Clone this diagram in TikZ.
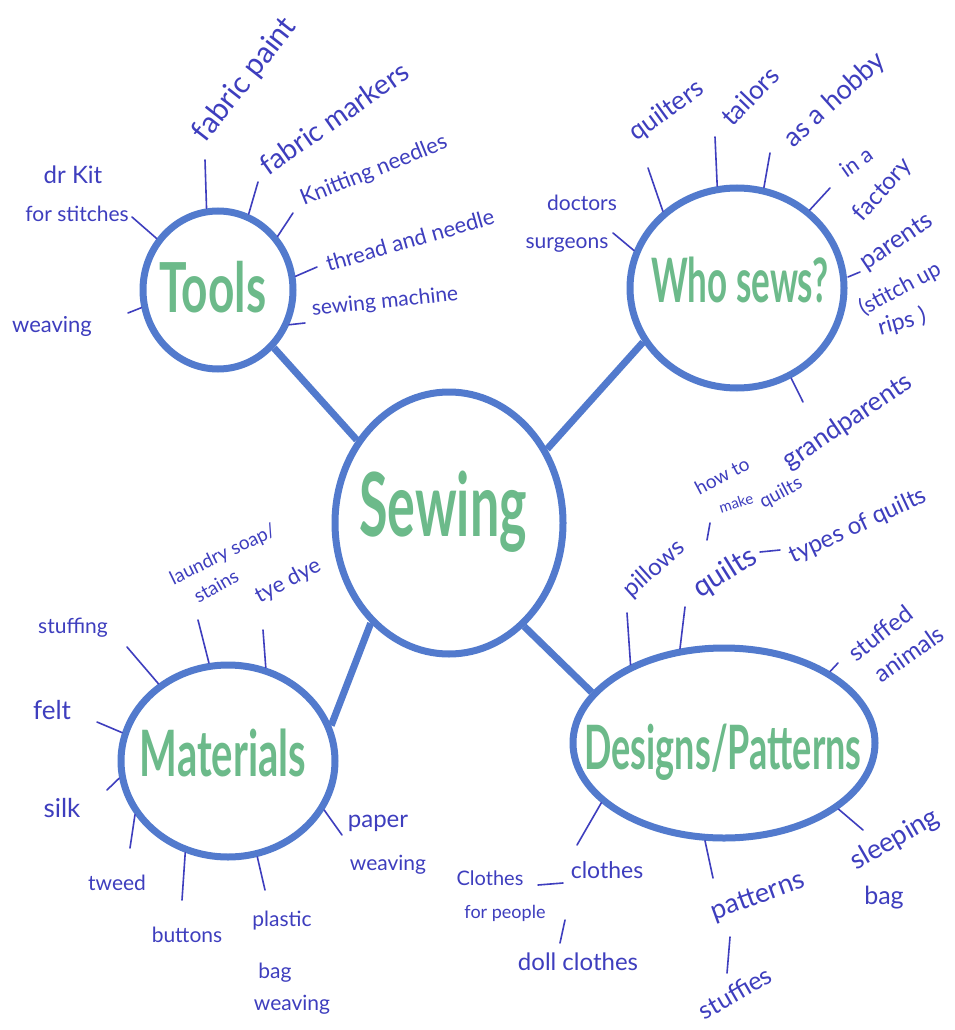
\documentclass[tikz,border=0pt]{standalone}
\usepackage{fontspec}
\setmainfont{Lato}
\usetikzlibrary{shapes.geometric}
\definecolor{ring}{RGB}{82,122,205}
\definecolor{ink}{RGB}{62,62,190}
\definecolor{leaf}{RGB}{108,186,138}
\newcommand{\fs}[1]{\fontsize{#1}{#1}\selectfont}
\begin{document}
\begin{tikzpicture}[x=1pt,y=-1pt,
  bubble/.style={ellipse, draw=ring, line width=7pt, inner sep=0pt},
  title/.style={text=leaf, inner sep=0pt, font=\bfseries},
  conn/.style={draw=ring, line width=7pt},
  tick/.style={draw=ink, line width=1.6pt, line cap=round},
  lab/.style={text=ink, inner sep=0pt, font=\fs{21}},
]
\useasboundingbox (0,0) rectangle (955,1030);
\fill[white] (0,0) rectangle (955,1030);

% ---------- bubbles ----------
\node[bubble, minimum width=150pt, minimum height=158pt] (tools) at (218,290) {};
\node[title, font=\bfseries\fs{46}, yscale=1.5] (toolsT) at (213,287) {Tools};
\node[bubble, minimum width=214pt, minimum height=200pt] (who) at (737,288) {};
\node[title, font=\bfseries\fs{35}, yscale=1.75] (whoT) at (740,280) {Who sews?};
\node[bubble, minimum width=228pt, minimum height=262pt] (sewing) at (449,523) {};
\node[title, font=\bfseries\fs{52}, yscale=1.7] (sewingT) at (443,512) {Sewing};
\node[bubble, minimum width=214pt, minimum height=192pt] (mat) at (228,761) {};
\node[title, font=\bfseries\fs{40}, yscale=1.6] (matT) at (223,753) {Materials};
\node[bubble, minimum width=302pt, minimum height=190pt] (des) at (724,743) {};
\node[title, font=\bfseries\fs{36}, yscale=1.7] (desT) at (723,752) {Designs/Patterns};

% ---------- main connectors ----------
\draw[conn] (tools.314) -- (sewing.138);
\draw[conn] (who.210) -- (sewing.37);
\draw[conn] (mat.19) -- (sewing.232);
\draw[conn] (des.159) -- (sewing.306);

% ---------- Tools ----------
\node[lab, font=\fs{24}] (drkit) at (73,175) {dr Kit};
\node[lab] (forst) at (77,214) {for stitches};
\node[lab, rotate=52, font=\fs{30}] (fpaint) at (245,80) {fabric paint};
\node[lab, rotate=35, font=\fs{28}] (fmark) at (334,118) {fabric markers};
\node[lab, rotate=22, font=\fs{22}] (knit) at (374,171) {Knitting needles};
\node[lab, rotate=16, font=\fs{22}] (thread) at (410,240) {thread and needle};
\node[lab, rotate=6] (smach) at (385,302) {sewing machine};
\node[lab, font=\fs{22}] (weav1) at (52,326) {weaving};
\coordinate (c1) at (132,217); \draw[tick] (tools.140) -- (c1);
\coordinate (c2) at (205,160); \draw[tick] (tools.98) -- (c2);
\coordinate (c3) at (258,182); \draw[tick] (tools.68) -- (c3);
\coordinate (c4) at (293,213); \draw[tick] (tools.42) -- (c4);
\coordinate (c5) at (317,267); \draw[tick] (tools.10) -- (c5);
\coordinate (c6) at (305,323); \draw[tick] (tools.334) -- (c6);
\coordinate (c7) at (128,313); \draw[tick] (tools.193) -- (c7);

% ---------- Who sews ----------
\node[lab] (doct) at (582,203) {doctors};
\node[lab] (surg) at (567,245) {surgeons};
\node[lab, rotate=36, font=\fs{26}] (quilt) at (667,111) {quilters};
\node[lab, rotate=46, font=\fs{26}] (tail) at (750,96) {tailors};
\node[lab, rotate=42, font=\fs{27}] (hobby) at (835,100) {as a hobby};
\node[lab, rotate=35, font=\fs{22}] (ina) at (856,162) {in a};
\node[lab, rotate=48, font=\fs{24}] (fact) at (883,190) {factory};
\node[lab, rotate=34, font=\fs{25}] (par) at (897,242) {parents};
\node[lab, rotate=28, font=\fs{22}] (stitch) at (900,289) {(stitch up};
\node[lab, rotate=15, font=\fs{23}] (rips) at (902,322) {rips )};
\node[lab, rotate=34, font=\fs{26}] (grand) at (848,422) {grandparents};
\coordinate (w1) at (613,233); \draw[tick] (who.160) -- (w1);
\coordinate (w2) at (648,168); \draw[tick] (who.134) -- (w2);
\coordinate (w3) at (715,137); \draw[tick] (who.101) -- (w3);
\coordinate (w4) at (770,153); \draw[tick] (who.75) -- (w4);
\coordinate (w5) at (830,188); \draw[tick] (who.47) -- (w5);
\coordinate (w6a) at (848,277); \coordinate (w6) at (860,272); \draw[tick] (w6a) -- (w6);
\coordinate (w7) at (803,402); \draw[tick] (who.301) -- (w7);

% ---------- Materials ----------
\node[lab] (stuffing) at (73,628) {stuffing};
\node[lab, rotate=26, font=\fs{19}] (laundry) at (223,555) {laundry soap/};
\node[lab, rotate=30, font=\fs{19}] (stains) at (216,586) {stains};
\node[lab, rotate=28, font=\fs{22}] (tye) at (288,581) {tye dye};
\node[lab, font=\fs{26}] (felt) at (52,710) {felt};
\node[lab, font=\fs{26}] (silk) at (62,808) {silk};
\node[lab] (tweed) at (117,883) {tweed};
\node[lab] (butt) at (187,935) {buttons};
\node[lab] (plast) at (282,921) {plastic};
\node[lab] (bag1) at (275,973) {bag};
\node[lab] (weav2) at (292,1005) {weaving};
\node[lab, font=\fs{24}] (paper) at (378,823) {paper};
\node[lab] (weav3) at (388,865) {weaving};
\coordinate (m1) at (127,647); \draw[tick] (mat.132) -- (m1);
\coordinate (m2) at (198,620); \draw[tick] (mat.101) -- (m2);
\coordinate (m3) at (263,630); \draw[tick] (mat.68) -- (m3);
\coordinate (m4) at (97,722); \draw[tick] (mat.165) -- (m4);
\coordinate (m5) at (107,790); \draw[tick] (mat.189) -- (m5);
\coordinate (m6) at (130,848); \draw[tick] (mat.210) -- (m6);
\coordinate (m7) at (182,900); \draw[tick] (mat.245) -- (m7);
\coordinate (m8) at (265,890); \draw[tick] (mat.287) -- (m8);
\coordinate (m9) at (342,835); \draw[tick] (mat.333) -- (m9);

% ---------- Designs/Patterns ----------
\node[lab, rotate=28, font=\fs{19}] (howto) at (722,476) {how to};
\node[lab, rotate=18, font=\fs{15}] (make) at (736,503) {make};
\node[lab, rotate=28, font=\fs{19}] (quiltsS) at (781,493) {quilts};
\node[lab, rotate=42, font=\fs{24}] (pill) at (654,569) {pillows};
\node[lab, rotate=32, font=\fs{29}] (quilts) at (725,573) {quilts};
\node[lab, rotate=25, font=\fs{24}] (types) at (858,526) {types of quilts};
\node[lab, rotate=38, font=\fs{24}] (stuffed) at (880,633) {stuffed};
\node[lab, rotate=35, font=\fs{24}] (anim) at (909,654) {animals};
\node[lab, rotate=30, font=\fs{27}] (sleep) at (895,840) {sleeping};
\node[lab, font=\fs{25}] (bag2) at (884,898) {bag};
\node[lab, rotate=20, font=\fs{27}] (patt) at (758,897) {patterns};
\node[lab, rotate=30, font=\fs{25}] (stuffies) at (735,993) {stuffies};
\node[lab, font=\fs{23}] (clothes) at (607,870) {clothes};
\node[lab, font=\fs{20}] (Clothes) at (490,878) {Clothes};
\node[lab, font=\fs{18}] (forpeople) at (505,913) {for people};
\node[lab, font=\fs{24}] (doll) at (578,962) {doll clothes};
\coordinate (d1) at (627,613); \draw[tick] (des.140) -- (d1);
\coordinate (d2) at (685,607); \draw[tick] (des.115) -- (d2);
\coordinate (d3) at (838,663); \draw[tick] (des.34) -- (d3);
\coordinate (d4) at (863,830); \draw[tick] (des.330) -- (d4);
\coordinate (d5) at (713,878); \draw[tick] (des.259) -- (d5);
\coordinate (d6) at (577,845); \draw[tick] (des.206) -- (d6);
% sub-branches
\coordinate (s1a) at (538,885); \coordinate (s1b) at (563,883); \draw[tick] (s1a) -- (s1b);
\coordinate (s2a) at (565,920); \coordinate (s2b) at (560,943); \draw[tick] (s2a) -- (s2b);
\coordinate (s3a) at (730,937); \coordinate (s3b) at (727,973); \draw[tick] (s3a) -- (s3b);
\coordinate (s4a) at (760,552); \coordinate (s4b) at (780,550); \draw[tick] (s4a) -- (s4b);
\coordinate (s5a) at (707,540); \coordinate (s5b) at (710,523); \draw[tick] (s5a) -- (s5b);
\end{tikzpicture}
\end{document}
